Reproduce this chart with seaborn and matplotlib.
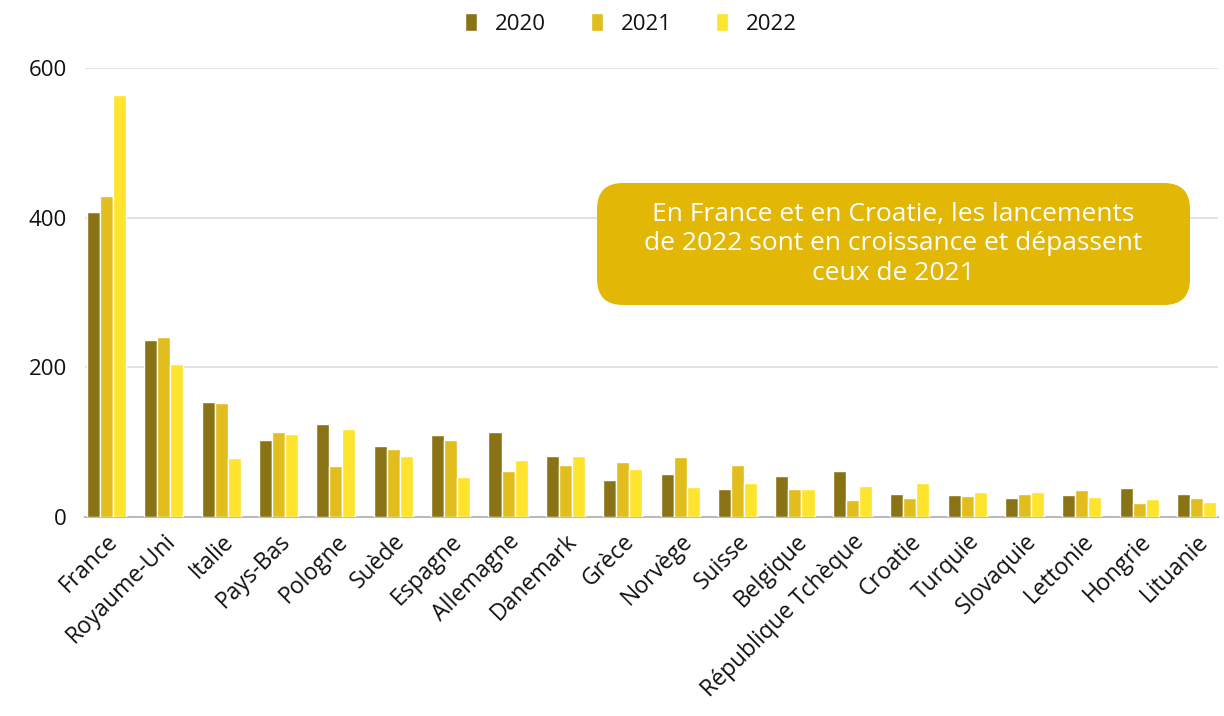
import pandas as pd
import matplotlib.pyplot as plt
from matplotlib.patches import FancyBboxPatch
import seaborn as sns

# Lancements par pays et par année
countries = ["France", "Royaume-Uni", "Italie", "Pays-Bas", "Pologne", "Suède",
             "Espagne", "Allemagne", "Danemark", "Grèce", "Norvège", "Suisse",
             "Belgique", "République Tchèque", "Croatie", "Turquie", "Slovaquie",
             "Lettonie", "Hongrie", "Lituanie"]
v2020 = [408, 237, 154, 103, 124, 95, 110, 113, 81, 50, 57, 37, 55, 61, 31, 30, 26, 29, 39, 31]
v2021 = [429, 240, 153, 113, 68, 91, 103, 62, 69, 74, 80, 70, 37, 23, 25, 28, 31, 36, 19, 26]
v2022 = [564, 204, 79, 111, 117, 82, 53, 76, 81, 64, 40, 46, 38, 42, 45, 33, 33, 27, 24, 20]
years = ["2020", "2021", "2022"]
colors = ["#8A7314", "#E2BD1E", "#FEE42C"]

note = "En France et en Croatie, les lancements\nde 2022 sont en croissance et dépassent\nceux de 2021"

df = pd.DataFrame({"pays": countries, "2020": v2020, "2021": v2021, "2022": v2022})
df = df.melt(id_vars="pays", var_name="annee", value_name="lancements")

sns.set_theme(style="white")
plt.rcParams["font.family"] = ["Open Sans", "DejaVu Sans"]
plt.rcParams["font.weight"] = 500

W, H = 1224, 716
fig = plt.figure(figsize=(W / 100, H / 100), dpi=100)
ax = fig.add_axes([85 / W, 1 - 517 / H, (1218 - 85) / W, (517 - 68) / H])

sns.barplot(data=df, x="pays", y="lancements", hue="annee", hue_order=years,
            palette=colors, width=0.68, gap=0, saturation=1, ax=ax, zorder=3)

ax.set_ylim(0, 600)
ax.set_xlim(-0.37, len(countries) - 1 + 0.37)
ax.set_yticks([0, 200, 400, 600])
ax.yaxis.grid(True, color="#dddddd", linewidth=1.2, zorder=0)
ax.set_xlabel("")
ax.set_ylabel("")
for s in ["top", "right", "left"]:
    ax.spines[s].set_visible(False)
ax.spines["bottom"].set_color("#bbbbbb")
ax.spines["bottom"].set_linewidth(1.5)
ax.tick_params(axis="y", length=0, labelsize=16, pad=13, labelcolor="#111111")
ax.tick_params(axis="x", length=0, labelsize=16.5, pad=9, labelcolor="#111111")
plt.setp(ax.get_xticklabels(), rotation=45, ha="right", rotation_mode="anchor")

ax.legend(loc="center", bbox_to_anchor=(0.482, 1.098), ncol=3, frameon=False,
          fontsize=16, handlelength=0.55, handleheight=0.9, columnspacing=2.0,
          handletextpad=0.8, labelcolor="#111111")

# encadré d'annotation (coordonnées en pixels de la figure)
x0, y0, bw, bh = 597, 183, 593, 122
box = FancyBboxPatch((x0 / W, 1 - (y0 + bh) / H), bw / W, bh / H,
                     boxstyle="round,pad=0,rounding_size=%f" % (26 / W),
                     mutation_aspect=W / H, transform=fig.transFigure,
                     fc="#E2B705", ec="none", zorder=4)
fig.patches.append(box)
fig.text((x0 + bw / 2) / W, 1 - (y0 + bh / 2) / H, note, ha="center", va="center",
         fontsize=19, color="white", linespacing=1.22, zorder=5)

fig.savefig("out.png", dpi=100)
